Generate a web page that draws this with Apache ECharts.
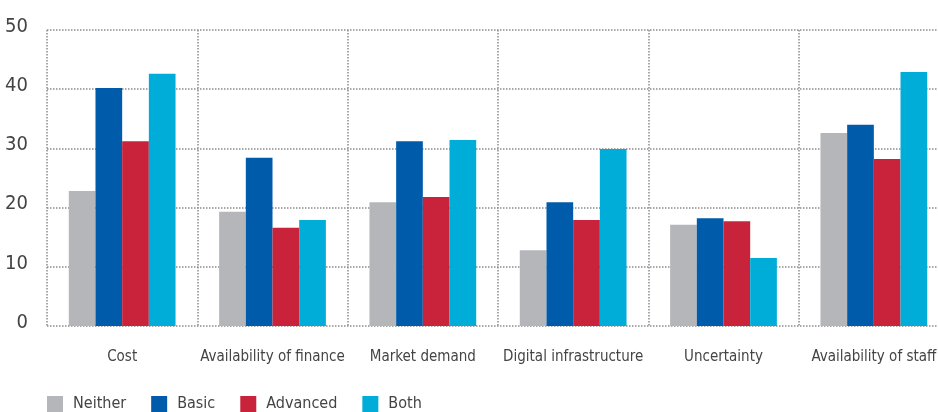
<!DOCTYPE html>
<html>
<head>
<meta charset="utf-8">
<script src="https://cdn.jsdelivr.net/npm/echarts@6/dist/echarts.min.js"></script>
<style>
  html, body { margin: 0; padding: 0; background: #fff; overflow: hidden; }
  #chart { width: 949px; height: 412px; }
</style>
</head>
<body>
<div id="chart"></div>
<script>
const categories = ['Cost', 'Availability of finance', 'Market demand', 'Digital infrastructure', 'Uncertainty', 'Availability of staff'];
const neither = [22.8, 19.3, 20.9, 12.8, 17.1, 32.6];
const basic = [40.2, 28.4, 31.2, 20.9, 18.2, 34.0];
const advanced = [31.2, 16.6, 21.8, 17.9, 17.7, 28.2];
const both = [42.6, 17.9, 31.4, 29.9, 11.5, 42.9];
const yTicks = [0, 10, 20, 30, 40, 50];

const font = '"DejaVu Sans Condensed", "Liberation Sans Narrow", sans-serif';
const dots = { color: '#8c8c8c', type: [1.5, 1.5], width: 1.5 };

const chart = echarts.init(document.getElementById('chart'));
const mk = (name, data, color) => ({
  name, type: 'bar', data, barGap: 0, barCategoryGap: '29%',
  itemStyle: { color }
});
chart.setOption({
  animation: false,
  grid: { left: 47, right: 0, top: 30, bottom: 86 },
  legend: {
    left: 42, bottom: -5, icon: 'rect', itemWidth: 16, itemHeight: 16, itemGap: 25,
    textStyle: { fontFamily: font, fontSize: 16, color: '#444', padding: [0, 0, 0, 5] }
  },
  xAxis: {
    type: 'category', data: categories,
    axisLine: { show: false }, axisTick: { show: false },
    axisLabel: { fontFamily: font, fontSize: 15, color: '#444', margin: 24, interval: 0 },
    splitLine: { show: true, lineStyle: dots }
  },
  yAxis: {
    type: 'value', min: yTicks[0], max: yTicks[yTicks.length - 1], interval: 10,
    axisLine: { show: false }, axisTick: { show: false },
    axisLabel: {
      fontFamily: font, fontSize: 20, color: '#444', margin: 19,
      verticalAlign: 'bottom', lineHeight: 7
    },
    splitLine: { lineStyle: dots }
  },
  series: [
    mk('Neither', neither, '#b5b6ba'),
    mk('Basic', basic, '#005baa'),
    mk('Advanced', advanced, '#c8233b'),
    mk('Both', both, '#00acd8')
  ]
});
</script>
</body>
</html>
